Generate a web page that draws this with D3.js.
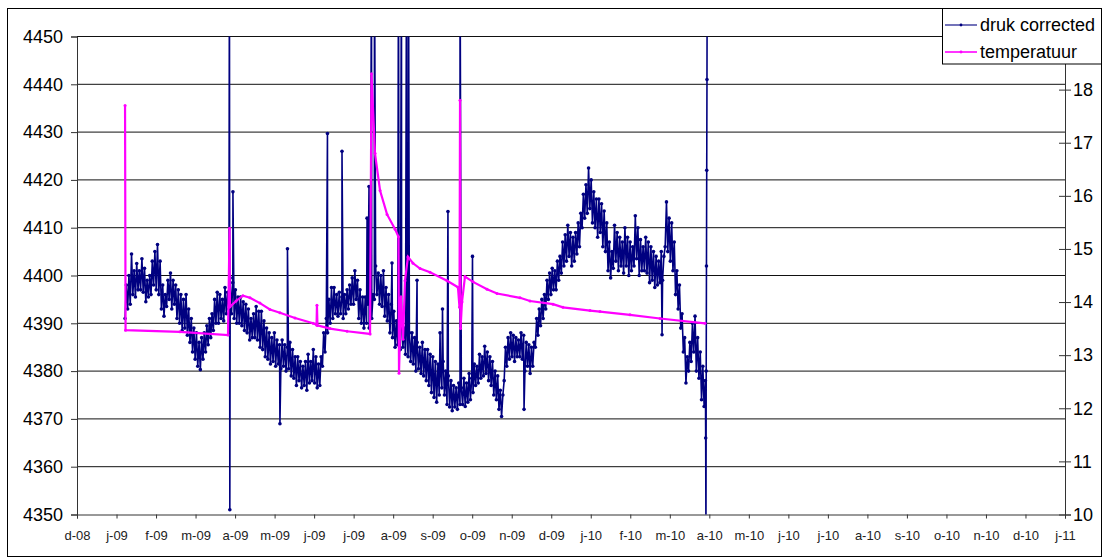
<!DOCTYPE html>
<html>
<head>
<meta charset="utf-8">
<script src="https://cdn.jsdelivr.net/npm/d3@7"></script>
<style>
  body { margin: 0; background: #fff; }
  svg { display: block; font-family: "Liberation Sans", Arial, sans-serif; }
</style>
</head>
<body>
<svg id="chart" width="1109" height="559"></svg>
<script>
// Month tick labels, one per month start from Dec 2008 to Jan 2011
const monthLabels = ["d-08","j-09","f-09","m-09","a-09","m-09","j-09","j-09","a-09","s-09","o-09","n-09",
  "d-09","j-10","f-10","m-10","a-10","m-10","j-10","j-10","a-10","s-10","o-10","n-10","d-10","j-11"];

const pressureTicks = [4350, 4360, 4370, 4380, 4390, 4400, 4410, 4420, 4430, 4440, 4450];
// secondary axis runs 10..19; the 19 position sits under the legend
const tempDomain = [10, 19];
const tempTicks = [10, 11, 12, 13, 14, 15, 16, 17, 18];

// Pressure readings ("druk corrected"), one per day starting day 37 after 1 Dec 2008
const drukStartDay = 37;
const drukStepDays = 1;
const drukValues = [
  4391, 4398, 4393, 4400, 4394, 4404.5, 4396, 4401, 4395.5, 4402.5, 4397, 4401,
  4397, 4403.5, 4396.5, 4401.5, 4394.5, 4399, 4395.5, 4400, 4396, 4403, 4398, 4405,
  4397, 4406.5, 4396, 4403, 4393, 4398, 4391.5, 4396, 4393.5, 4399, 4395, 4400.5,
  4393, 4399, 4394, 4398, 4391, 4397, 4390, 4396, 4388.5, 4395, 4389, 4396,
  4387.5, 4393, 4386, 4391, 4384, 4389, 4382.5, 4388, 4381, 4386, 4380.3, 4387,
  4382.5, 4388, 4384, 4389.5, 4385.5, 4391, 4387, 4392, 4388.5, 4395, 4390, 4396.5,
  4390, 4396, 4391, 4395, 4390.5, 4397.5, 4392, 4396.5, 4393, 4399.5, 4392, 4398.5,
  4391, 4397, 4390, 4395.5, 4390, 4395.5, 4389.5, 4394.5, 4388.5, 4394, 4388, 4393,
  4386.5, 4391, 4387, 4392, 4387, 4393.5, 4386.5, 4392.5, 4385, 4392.5, 4384.5, 4390.5,
  4383, 4389, 4382.5, 4388, 4381.5, 4387, 4382, 4388, 4381, 4386.5, 4381.5, 4385.5,
  4380.5, 4386.5, 4381, 4385.5, 4380, 4385, 4380.5, 4386, 4379, 4384.5, 4378.5, 4383,
  4377, 4383, 4378, 4382, 4376.5, 4381, 4377, 4382, 4376, 4383.5, 4377.5, 4382,
  4378, 4384.5, 4377.5, 4383, 4376.5, 4381.5, 4377, 4383, 4381, 4388, 4384, 4391,
  4388, 4395, 4390, 4397.5, 4391, 4397.5, 4392, 4396, 4391.5, 4396.5, 4392, 4395.5,
  4391, 4396, 4392, 4397, 4393, 4398, 4394, 4399.5, 4394, 4401, 4395, 4399,
  4391, 4397, 4390, 4395.5, 4389, 4395.5, 4390, 4394, 4389, 4397, 4391, 4396,
  4395, 4402, 4396, 4400.5, 4394, 4400, 4393.5, 4401, 4391.5, 4397.5, 4390.5, 4396,
  4388, 4394, 4387, 4392.5, 4385, 4390.5, 4385.5, 4390, 4384.5, 4390, 4385, 4389,
  4383.5, 4389, 4383, 4388, 4382, 4388, 4381.5, 4387, 4380, 4386, 4380.5, 4385,
  4379.5, 4386, 4379, 4384.5, 4378, 4384.5, 4377, 4383.5, 4375.5, 4383, 4374.5, 4382,
  4373.5, 4381.5, 4375, 4380.5, 4376.5, 4382, 4375, 4380, 4373, 4379, 4372.5, 4378,
  4371.7, 4377, 4372.5, 4376.5, 4372, 4377.5, 4373, 4376.5, 4373, 4378.5, 4372.6, 4377.5,
  4373.5, 4379.5, 4374, 4378.5, 4375.5, 4381.5, 4377, 4381, 4377.5, 4383.5, 4378.5, 4383,
  4379, 4385.2, 4379.5, 4384, 4378, 4383, 4377, 4382, 4375, 4380, 4374, 4379,
  4372, 4376, 4370.5, 4375, 4378, 4385, 4381, 4387, 4382.5, 4388, 4383, 4387.5,
  4382, 4387, 4383, 4386.5, 4383, 4388, 4382.5, 4387.5, 4380, 4386, 4381, 4385.5,
  4379.5, 4385, 4381, 4386, 4385, 4391, 4387.5, 4393, 4389.5, 4395, 4391, 4396,
  4393, 4399, 4395, 4400.5, 4396, 4401.5, 4397, 4401, 4397, 4403, 4399, 4404,
  4400.5, 4407, 4402, 4408.5, 4403, 4410.5, 4404, 4409, 4402, 4408, 4403, 4409,
  4404.5, 4411, 4406, 4413, 4410, 4417, 4412, 4419, 4413, 4422.5, 4414, 4420,
  4411, 4417.5, 4410, 4416, 4408, 4416, 4409, 4415, 4406, 4413.5, 4405, 4411,
  4401, 4407, 4399.5, 4405, 4401.5, 4410.5, 4403, 4409, 4401, 4408, 4402, 4407,
  4400.5, 4410, 4402, 4408, 4400, 4407, 4401, 4406, 4402, 4412.5, 4403.5, 4410,
  4400, 4407.5, 4401, 4406, 4401, 4408, 4400.5, 4407, 4398.5, 4406, 4399, 4405,
  4397.5, 4404, 4398, 4403, 4398.5, 4405, 4399, 4404, 4406, 4415.4, 4405, 4412,
  4403, 4411, 4401, 4407, 4396, 4401, 4393, 4398, 4389, 4392, 4384, 4387,
  4377.5, 4383, 4380, 4386, 4382, 4390, 4384, 4391.5, 4380, 4387, 4378.5, 4384,
  4374, 4381, 4372.6, 4378
];

// Isolated outlier readings of the pressure logger: [day, value]
const drukSpikes = [
  [117.4, 4470], [117.7, 4351], [120.1, 4417.5], [156.3, 4369], [162.1, 4405.6],
  [192.9, 4429.7], [204.1, 4426], [223.4, 4412], [224.9, 4418.6], [226.8, 4470],
  [229.1, 4470], [242.6, 4402.6], [247.6, 4470], [249.9, 4470], [253.8, 4470],
  [255.3, 4470], [261.9, 4399], [279.6, 4388], [281.5, 4393], [285.7, 4413.4],
  [295.0, 4470], [304.6, 4404], [344.3, 4372], [450.6, 4387.6],
  [484.2, 4366], [484.4, 4345], [484.6, 4380], [484.8, 4402], [485.0, 4422],
  [485.2, 4441], [485.4, 4470]
];

// Temperature readings ("temperatuur"): day and value
const tempDays = [
  37.0, 37.4, 79.3, 116.3, 117.5, 117.8, 122.5, 127.8, 133.2, 140.9, 148.6, 156.3,
  167.9, 181.8, 184.5, 184.8, 185.2, 194.9, 208.0, 225.7, 226.8, 229.5, 233.4, 238.8,
  245.0, 247.6, 248.0, 249.5, 251.1, 252.6, 254.9, 258.8, 264.2, 271.9, 285.0, 293.4,
  294.6, 295.0, 295.4, 296.5, 298.8, 305.0, 315.8, 323.5, 341.2, 348.9, 366.6, 374.3,
  395.1, 402.8, 425.9, 449.0, 483.7
];
const tempValues = [
  17.7, 13.47, 13.44, 13.38, 15.39, 13.91, 14.02, 14.12, 14.08, 13.98, 13.86, 13.80,
  13.70, 13.60, 13.57, 13.94, 13.56, 13.50, 13.45, 13.40, 18.30, 16.80, 16.10, 15.65,
  15.37, 15.23, 12.66, 14.10, 13.30, 14.40, 14.85, 14.73, 14.63, 14.56, 14.40, 14.28,
  13.90, 17.80, 13.50, 14.00, 14.48, 14.38, 14.24, 14.16, 14.08, 14.02, 13.96, 13.90,
  13.84, 13.82, 13.76, 13.69, 13.60
];

const seriesNames = ["druk corrected", "temperatuur"];
const seriesColors = ["#000080", "#ff00ff"];

const DAYS_PER_MONTH = 30.4375;

const svg = d3.select("#chart");
const plot = { left: 77, right: 1065, top: 36.5, bottom: 514.5 };

const x = d3.scaleLinear()
  .domain([0, (monthLabels.length - 1) * DAYS_PER_MONTH])
  .range([plot.left, plot.right]);
const yP = d3.scaleLinear().domain([4350, 4450]).range([plot.bottom, plot.top]);
const yT = d3.scaleLinear().domain(tempDomain).range([plot.bottom, plot.top]);

// Build series
const druk = drukValues.map((v, i) => ({ day: drukStartDay + i * drukStepDays, value: v }))
  .concat(drukSpikes.map(([d, v]) => ({ day: d, value: v })))
  .sort((a, b) => a.day - b.day);
const temp = tempDays.map((d, i) => ({ day: d, value: tempValues[i] }));

// Background and chart-area frame
svg.append("rect").attr("width", 1109).attr("height", 559).attr("fill", "#fff");
svg.append("rect")
  .attr("x", 7.5).attr("y", 8.5).attr("width", 1094).attr("height", 548)
  .attr("fill", "none").attr("stroke", "#000").attr("stroke-width", 1);

svg.append("clipPath").attr("id", "plotClip")
  .append("rect")
  .attr("x", plot.left).attr("y", plot.top)
  .attr("width", plot.right - plot.left).attr("height", plot.bottom - plot.top);

// Horizontal gridlines
svg.append("g")
  .selectAll("line")
  .data(pressureTicks.slice(1))
  .join("line")
  .attr("x1", plot.left).attr("x2", plot.right)
  .attr("y1", d => yP(d)).attr("y2", d => yP(d))
  .attr("stroke", "#111").attr("stroke-width", 1);

// Left axis
const leftAxis = svg.append("g")
  .attr("transform", `translate(${plot.left},0)`)
  .call(d3.axisLeft(yP).tickValues(pressureTicks).tickSize(6).tickPadding(8).tickFormat(d3.format("d")));
leftAxis.select(".domain").attr("stroke", "#333");
leftAxis.selectAll(".tick line").attr("stroke", "#333");
leftAxis.selectAll("text").attr("font-size", 18).attr("fill", "#000")
  .attr("font-family", "'Liberation Sans', Arial, sans-serif");

// Right axis (crossing ticks)
const rightAxis = svg.append("g")
  .attr("transform", `translate(${plot.right},0)`)
  .call(d3.axisRight(yT).tickValues(tempTicks).tickSize(6).tickPadding(2).tickFormat(d3.format("d")));
rightAxis.select(".domain").attr("stroke", "#333");
rightAxis.selectAll(".tick line").attr("x1", -6).attr("stroke", "#333");
rightAxis.selectAll("text").attr("font-size", 18).attr("fill", "#000")
  .attr("font-family", "'Liberation Sans', Arial, sans-serif");

// Bottom axis with month labels
const monthTicks = monthLabels.map((_, i) => i * DAYS_PER_MONTH);
const bottomAxis = svg.append("g")
  .attr("transform", `translate(0,${plot.bottom})`)
  .call(d3.axisBottom(x).tickValues(monthTicks).tickSize(4).tickPadding(12)
    .tickFormat((d, i) => monthLabels[i]));
bottomAxis.select(".domain").attr("stroke", "#333");
bottomAxis.selectAll(".tick line").attr("stroke", "#333");
bottomAxis.selectAll("text").attr("font-size", 13).attr("fill", "#222")
  .attr("font-family", "'Liberation Sans', Arial, sans-serif");

// Series
const plotG = svg.append("g").attr("clip-path", "url(#plotClip)");

const drukLine = d3.line().x(d => x(d.day)).y(d => yP(d.value));
plotG.append("path").datum(druk)
  .attr("d", drukLine)
  .attr("fill", "none").attr("stroke", seriesColors[0]).attr("stroke-width", 1.6);
plotG.append("g").selectAll("circle").data(druk).join("circle")
  .attr("cx", d => x(d.day)).attr("cy", d => yP(d.value)).attr("r", 1.8)
  .attr("fill", seriesColors[0]);

const tempLine = d3.line().x(d => x(d.day)).y(d => yT(d.value));
plotG.append("path").datum(temp)
  .attr("d", tempLine)
  .attr("fill", "none").attr("stroke", seriesColors[1]).attr("stroke-width", 2.2);
plotG.append("g").selectAll("circle").data(temp).join("circle")
  .attr("cx", d => x(d.day)).attr("cy", d => yT(d.value)).attr("r", 1.5)
  .attr("fill", seriesColors[1]);

// Legend
const legend = svg.append("g");
legend.append("rect")
  .attr("x", 942.5).attr("y", 8.5).attr("width", 159).attr("height", 55.5)
  .attr("fill", "#fff").attr("stroke", "#000").attr("stroke-width", 1);
seriesNames.forEach((name, i) => {
  const cy = 25 + i * 27;
  legend.append("line")
    .attr("x1", 945).attr("x2", 977).attr("y1", cy).attr("y2", cy)
    .attr("stroke", seriesColors[i]).attr("stroke-width", i === 0 ? 1.1 : 1.6);
  legend.append("circle").attr("cx", 961).attr("cy", cy).attr("r", 1.4).attr("fill", seriesColors[i]);
  legend.append("text")
    .attr("x", 980).attr("y", cy + 6.3)
    .attr("font-size", 18).attr("fill", "#000")
    .text(name);
});
</script>
</body>
</html>
